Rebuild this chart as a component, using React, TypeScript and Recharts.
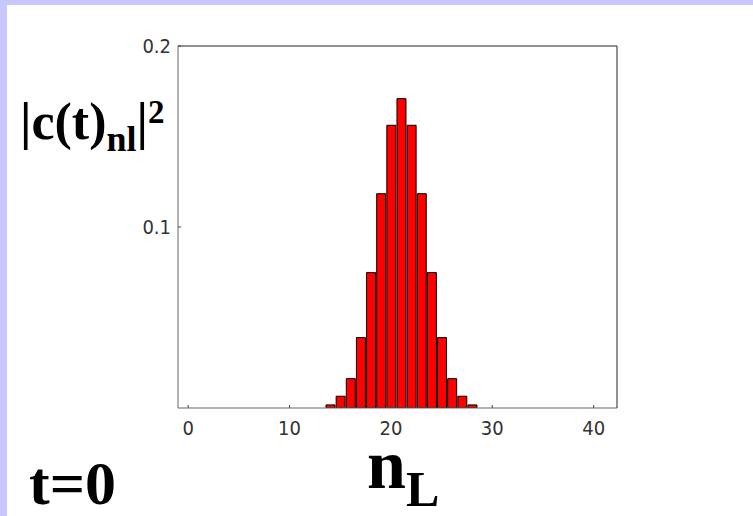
import React from 'react';
import { BarChart, Bar, XAxis, YAxis } from 'recharts';

// Occupation number n_L and its probability |c(t)_nl|^2 at t = 0
const occupation = [14, 15, 16, 17, 18, 19, 20, 21, 22, 23, 24, 25, 26, 27, 28];
const probability = [
  0.0017, 0.0065, 0.0162, 0.0389, 0.0748, 0.1184, 0.1562, 0.1709,
  0.1562, 0.1184, 0.0748, 0.0389, 0.0162, 0.0065, 0.0017,
];
const xTicks = [0, 10, 20, 30, 40];
const yTicks = [0.1, 0.2];
const yTickLabels = ['0.1', '0.2'];

const data = occupation.map((n, i) => ({ n, p: probability[i] }));

const W = 753;
const H = 516;
const TICK_FONT = "'Liberation Sans Narrow', 'DejaVu Sans Condensed', 'Liberation Sans', sans-serif";
const SERIF = "'Liberation Serif', 'Times New Roman', serif";
const X_GAP = 13;
const Y_GAP = 7;

const XTick = (props: any) => {
  const { x, y, payload } = props;
  const axisY = y - X_GAP;
  return (
    <g>
      <line x1={x} x2={x} y1={axisY} y2={axisY - 3} stroke="#444" strokeWidth={1} />
      <text x={x} y={y} dy="0.72em" textAnchor="middle" fontFamily={TICK_FONT} fontSize={20} fill="#333">
        {payload.value}
      </text>
    </g>
  );
};

const YTick = (props: any) => {
  const { x, y, payload, index } = props;
  const axisX = x + Y_GAP;
  return (
    <g>
      <line x1={axisX} x2={axisX + 3} y1={y} y2={y} stroke="#444" strokeWidth={1} />
      <text x={x} y={y} dy="0.36em" textAnchor="end" fontFamily={TICK_FONT} fontSize={20} fill="#333">
        {yTickLabels[index] ?? payload.value}
      </text>
    </g>
  );
};

export default function App() {
  return (
    <div style={{ position: 'absolute', left: 0, top: 0, width: W, height: H, background: '#fff', overflow: 'hidden' }}>
      <div style={{ position: 'absolute', left: 0, top: 0, width: W, height: 5, background: '#c8c8ff' }} />
      <div style={{ position: 'absolute', left: 0, top: 0, width: 7, height: H, background: '#c8c8ff' }} />
      <div style={{ position: 'absolute', left: 0, top: 0 }}>
        <BarChart width={W} height={H} data={data} margin={{ top: 45, right: 135, bottom: 78, left: 138 }}>
          <XAxis
            dataKey="n"
            type="number"
            domain={[-1, 42.3]}
            ticks={xTicks}
            allowDataOverflow
            height={30}
            tickSize={0}
            tickMargin={X_GAP}
            tickLine={false}
            axisLine={{ stroke: '#666', strokeWidth: 1 }}
            tick={<XTick />}
            interval={0}
          />
          <XAxis
            xAxisId="top"
            dataKey="n"
            type="number"
            orientation="top"
            domain={[-1, 42.3]}
            allowDataOverflow
            height={1}
            tick={false}
            tickLine={false}
            axisLine={{ stroke: '#222', strokeWidth: 1 }}
          />
          <YAxis
            type="number"
            domain={[0, 0.2]}
            ticks={yTicks}
            allowDataOverflow
            width={40}
            tickSize={0}
            tickMargin={Y_GAP}
            tickLine={false}
            axisLine={{ stroke: '#666', strokeWidth: 1 }}
            tick={<YTick />}
            interval={0}
          />
          <YAxis
            yAxisId="right"
            type="number"
            orientation="right"
            domain={[0, 0.2]}
            allowDataOverflow
            width={1}
            tick={false}
            tickLine={false}
            axisLine={{ stroke: '#222', strokeWidth: 1 }}
          />
          <Bar dataKey="p" fill="#ff0000" stroke="#000" strokeWidth={1} barSize={9} isAnimationActive={false} />
        </BarChart>
      </div>
      <svg width={W} height={H} style={{ position: 'absolute', left: 0, top: 0, pointerEvents: 'none' }}>
        <text x={20} y={139} fontFamily={SERIF} fontWeight="bold" fontSize={52} fill="#000">
          |c(t)
          <tspan fontSize={36} dy={12}>nl</tspan>
          <tspan dy={-12}>|</tspan>
          <tspan fontSize={33} dy={-16}>2</tspan>
        </text>
        <text x={29} y={504} fontFamily={SERIF} fontWeight="bold" fontSize={62} fill="#000">
          t=0
        </text>
        <text x={367} y={488} fontFamily={SERIF} fontWeight="bold" fontSize={70} fill="#000">
          n
          <tspan fontSize={50} dy={18}>L</tspan>
        </text>
      </svg>
    </div>
  );
}
